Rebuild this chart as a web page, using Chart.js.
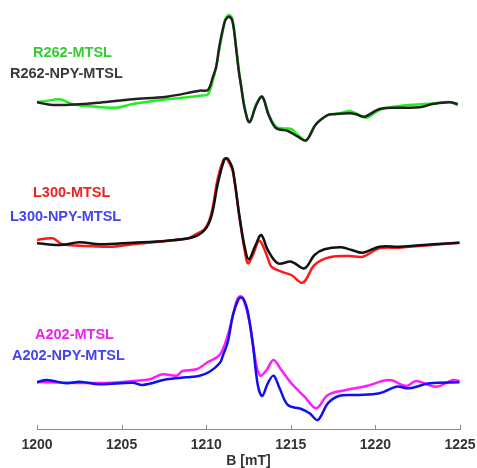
<!DOCTYPE html>
<html>
<head>
<meta charset="utf-8">
<script src="https://cdn.jsdelivr.net/npm/chart.js@4/dist/chart.umd.min.js"></script>
<style>
html,body{margin:0;padding:0;background:#fff;}
#wrap{width:477px;height:468px;position:relative;}
</style>
</head>
<body>
<div id="wrap"><canvas id="c" width="477" height="468"></canvas></div>
<script>
// Magnetic field axis
const xTicks = [1200, 1205, 1210, 1215, 1220, 1225];
const xTitle = 'B [mT]';
const seriesNames = ['R262-MTSL', 'R262-NPY-MTSL', 'L300-MTSL', 'L300-NPY-MTSL', 'A202-MTSL', 'A202-NPY-MTSL'];

// R262-MTSL (green), offset spectrum, arbitrary units
const r262B = [1200.0,1200.57,1201.34,1202.11,1203.0,1204.7,1205.65,1207.66,1209.0,1209.61,1210.10,1210.40,1210.59,1210.79,1211.09,1211.2,1211.34,1211.55,1211.78,1211.93,1212.27,1212.56,1212.96,1213.31,1213.69,1214.14,1214.6,1215.03,1215.42,1215.91,1216.40,1216.89,1217.19,1218.0,1218.47,1218.87,1219.46,1220.24,1221.42,1223.39,1224.38,1224.87];
const r262 = [327,328,329.7,324.7,323,321.3,325,329.7,332,333.3,334.7,349,362,381,407,412,414,409.5,380,359,322,307.3,325,332.5,315,302,300.5,300,294,289,303,311,314,316,318,315.5,311.3,319,323,325.5,327,323.7];

// R262-NPY-MTSL (black)
const r262nB = [1200.0,1200.93,1202.52,1203.70,1205.65,1207.66,1209.61,1210.10,1210.40,1210.59,1210.79,1211.09,1211.2,1211.34,1211.55,1211.78,1211.93,1212.07,1212.27,1212.56,1212.96,1213.31,1213.69,1214.14,1214.83,1215.42,1215.91,1216.50,1217.19,1217.48,1218.47,1218.87,1219.36,1220.24,1221.42,1222.61,1223.39,1224.38,1224.87];
const r262n = [326.7,324,324.7,326.3,329.7,332.3,338.3,339,352.3,362.3,384,407.3,410.5,412.3,408,379,357.3,342.3,320.7,306.7,324,332.3,314,300.7,298,292.3,288.5,305,314,314.7,315.7,314.7,312.3,320,321.3,321.7,325,326.7,325];

// L300-MTSL (red)
const l300B = [1200.0,1200.93,1201.46,1202.52,1204.47,1205.65,1207.66,1209.0,1209.31,1209.91,1210.30,1210.69,1211.0,1211.15,1211.32,1211.58,1211.97,1212.27,1212.46,1212.76,1213.15,1213.64,1213.85,1214.44,1215.03,1215.71,1216.40,1217.29,1218.47,1219.26,1220.24,1221.42,1223.39,1224.97];
const l300 = [189,190.7,185,183.3,182.3,184.7,188,191,194,200,215,251,268.5,270.7,267.5,257,211,179,165.7,174,188.3,171,162.3,157.3,154,146.3,164,171.7,173,172.3,180.7,181.3,184,186.3];

// L300-NPY-MTSL (black)
const l300nB = [1200.0,1201.34,1202.52,1203.70,1205.65,1207.66,1209.20,1209.91,1210.30,1210.69,1211.05,1211.22,1211.4,1211.58,1211.97,1212.27,1212.52,1212.92,1213.25,1213.64,1214.24,1215.03,1215.81,1216.40,1216.99,1217.98,1218.6,1219.26,1220.24,1221.42,1223.39,1224.97];
const l300n = [185.7,184,186.7,184.7,186.3,188.3,191.7,199,212.3,245.7,268.5,270.7,267,259,212.3,182.3,169.7,184,194,179,165.7,167.3,160.7,174,179.7,181.7,179,176.3,182.3,182.3,184.7,186.3];

// A202-MTSL (magenta)
const a202B = [1200.0,1203.70,1205.89,1206.66,1207.42,1208.25,1208.60,1209.43,1210.10,1210.79,1211.28,1211.68,1211.85,1212.03,1212.2,1212.56,1212.96,1213.21,1213.57,1213.98,1214.44,1215.03,1215.81,1216.50,1217.19,1218.28,1219.46,1220.83,1221.82,1222.41,1223.59,1224.58,1224.97];
const a202 = [47,46,48.3,49.7,54.7,53.3,58,59.7,67,74,94,120.7,130,132.8,130,107.3,64,53.2,59,69,59,45.7,32.3,20.7,34,39,43,49,43,48,42.3,49,48];

// A202-NPY-MTSL (blue)
const a202nB = [1200.0,1200.57,1201.75,1202.52,1203.70,1205.65,1206.24,1207.66,1208.84,1209.61,1210.20,1210.79,1211.0,1211.28,1211.58,1211.9,1212.07,1212.25,1212.46,1212.76,1213.05,1213.31,1213.64,1213.98,1214.34,1214.83,1215.62,1216.11,1216.60,1217.19,1217.88,1218.87,1220.24,1221.23,1222.01,1223.20,1224.97];
const a202n = [46.7,49,45.7,47.3,44.7,46.3,44,49.7,51.7,53.3,57.3,65.7,74,87.3,114,129.5,131.5,128.5,117.3,84,44,33,45.7,53.3,40.7,24,20,15.7,9,25.7,33.3,34,35.7,42.3,40.7,45.7,46.7];

function pts(xs, ys){ return xs.map((x,i)=>({x:x, y:ys[i]})); }

const lineColors = ['#22ee22', '#222222', '#ff1a1a', '#111111', '#ff1aff', '#1010ee'];
const textColors = ['#33cc33', '#3a3a3a', '#ee2222', '#4444ee', '#ee22ee', '#4444ee'];

function ds(label, data, color){
  return {label, data, borderColor: color, borderWidth: 2.5, pointRadius: 0, fill: false,
          tension: 0.35};
}

// first dataset is drawn on top
const datasets = [
  ds(seriesNames[1], pts(r262nB, r262n), lineColors[1]),
  ds(seriesNames[0], pts(r262B, r262), lineColors[0]),
  ds(seriesNames[3], pts(l300nB, l300n), lineColors[3]),
  ds(seriesNames[2], pts(l300B, l300), lineColors[2]),
  ds(seriesNames[5], pts(a202nB, a202n), lineColors[5]),
  ds(seriesNames[4], pts(a202B, a202), lineColors[4])
];

const labelPos = [[33,53],[10,74],[33,193],[10,217],[35,335],[12,356]];

const labelPlugin = {
  id: 'labels',
  afterDraw(chart){
    const ctx = chart.ctx;
    ctx.save();
    // inward ticks
    const xs = chart.scales.x;
    const bottom = chart.chartArea.bottom;
    ctx.strokeStyle = '#8c8c8c';
    ctx.lineWidth = 1;
    xTicks.forEach(t => {
      const px = Math.round(xs.getPixelForValue(t)) + 0.5;
      ctx.beginPath(); ctx.moveTo(px, bottom); ctx.lineTo(px, bottom - 4); ctx.stroke();
    });
    ctx.font = 'bold 14.5px "Liberation Sans", Arial, sans-serif';
    ctx.textAlign = 'left';
    ctx.textBaseline = 'middle';
    seriesNames.forEach((n,i) => {
      ctx.fillStyle = textColors[i];
      ctx.fillText(n, labelPos[i][0], labelPos[i][1]);
    });
    ctx.restore();
  }
};

new Chart(document.getElementById('c'), {
  type: 'line',
  data: { datasets },
  options: {
    responsive: false,
    animation: false,
    events: [],
    layout: { padding: { left: 37, right: 17, top: 5, bottom: 0 } },
    plugins: { legend: { display: false }, tooltip: { enabled: false } },
    scales: {
      x: {
        type: 'linear', min: 1200, max: 1225,
        afterBuildTicks(scale){ scale.ticks = xTicks.map(v => ({value: v})); },
        afterFit(scale){ scale.height = 39; scale.paddingLeft = 0; scale.paddingRight = 0; },
        grid: { display: true, drawOnChartArea: false, drawTicks: false },
        border: { display: true, color: '#8c8c8c', width: 1 },
        ticks: { color: '#333333', padding: 8, maxRotation: 0,
                 callback: v => String(v),
                 font: { family: '"Liberation Sans", Arial, sans-serif', size: 14, weight: 'bold' } },
        title: { display: true, text: xTitle, color: '#333333', padding: {top: 0, bottom: 0},
                 font: { family: '"Liberation Sans", Arial, sans-serif', size: 14, weight: 'bold', lineHeight: 1 } }
      },
      y: { type: 'linear', min: 0, max: 424, display: false }
    }
  },
  plugins: [labelPlugin]
});
</script>
</body>
</html>
